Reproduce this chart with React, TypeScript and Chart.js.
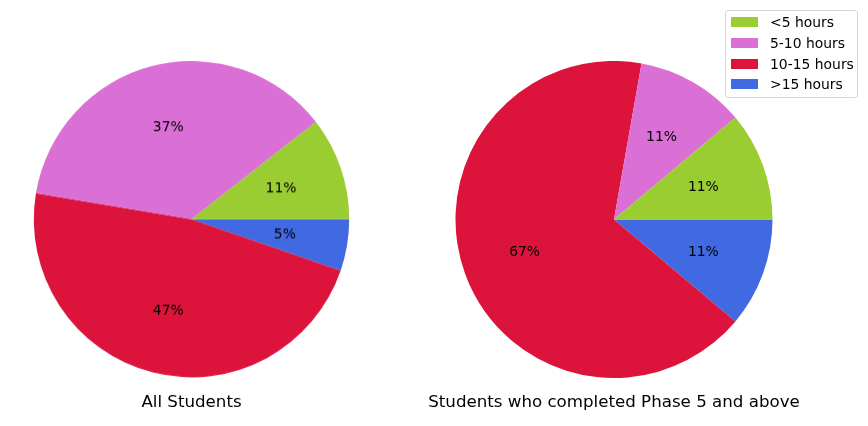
import React, { useEffect, useRef } from "react";
import { Chart, registerables } from "chart.js";

Chart.register(...registerables);

const categories = ["<5 hours", "5-10 hours", "10-15 hours", ">15 hours"];
const allStudents = [2, 7, 9, 1];
const phase5Students = [1, 1, 6, 1];
const titles = ["All Students", "Students who completed Phase 5 and above"];
const colors = ["#9ACD32", "#DA70D6", "#DC143C", "#4169E1"];

const FONT = "'DejaVu Sans', sans-serif";

const pctPlugin = {
  id: "pctLabels",
  afterDatasetsDraw(chart: any) {
    const ctx = chart.ctx;
    const meta = chart.getDatasetMeta(0);
    const data = chart.data.datasets[0].data as number[];
    const total = data.reduce((a, b) => a + b, 0);
    ctx.save();
    ctx.font = `13.9px ${FONT}`;
    ctx.fillStyle = "#000";
    ctx.textAlign = "center";
    ctx.textBaseline = "middle";
    meta.data.forEach((arc: any, i: number) => {
      const p = arc.getProps(["x", "y", "startAngle", "endAngle", "outerRadius"], true);
      const mid = (p.startAngle + p.endAngle) / 2;
      const r = 0.6 * p.outerRadius;
      const txt = Math.round((data[i] / total) * 100) + "%";
      ctx.fillText(txt, p.x + Math.cos(mid) * r, p.y + Math.sin(mid) * r);
    });
    ctx.restore();
  },
};

function PieCanvas(props: { values: number[]; title: string; left: number; top: number; width: number; size: number; padTop: number }) {
  const ref = useRef<HTMLCanvasElement>(null);
  const { values, title, left, top, width, size, padTop } = props;
  const height = size + padTop + 20 + 8;
  useEffect(() => {
    if (!ref.current) return;
    const rev = <T,>(a: T[]) => a.slice().reverse();
    const chart = new Chart(ref.current, {
      type: "pie",
      data: {
        labels: rev(categories),
        datasets: [
          {
            data: rev(values),
            backgroundColor: rev(colors),
            borderWidth: 0,
            hoverBorderWidth: 0,
            offset: 0,
            hoverOffset: 0,
          } as any,
        ],
      },
      options: {
        responsive: false,
        maintainAspectRatio: false,
        animation: false,
        rotation: 90,
        layout: { padding: 0 },
        events: [],
        plugins: {
          legend: { display: false },
          tooltip: { enabled: false },
          title: {
            display: true,
            position: "bottom",
            text: title,
            color: "#000",
            font: { family: FONT, size: 16.67, weight: "normal", lineHeight: 1.2 },
            padding: { top: padTop, bottom: 8 },
          },
        },
      } as any,
      plugins: [pctPlugin],
    });
    return () => chart.destroy();
  }, []);
  return (
    <canvas
      ref={ref}
      width={width}
      height={height}
      style={{ position: "absolute", left, top, width, height }}
    />
  );
}

function Legend() {
  return (
    <div
      style={{
        position: "absolute",
        left: 725,
        top: 10,
        width: 131,
        height: 86,
        border: "1px solid #d6d6d6",
        borderRadius: 3,
        background: "rgba(255,255,255,0.8)",
        fontFamily: FONT,
        fontSize: "13.9px",
        color: "#000",
      }}
    >
      {categories.map((c, i) => (
        <div key={c} style={{ position: "absolute", left: 0, top: 6 + i * 20.8, height: 10, width: "100%" }}>
          <div style={{ position: "absolute", left: 5, top: 0, width: 27, height: 10, background: colors[i] }} />
          <div style={{ position: "absolute", left: 44, top: -4, lineHeight: "18px", whiteSpace: "nowrap" }}>{c}</div>
        </div>
      ))}
    </div>
  );
}

export default function App() {
  return (
    <div style={{ position: "fixed", left: 0, top: 0, width: 868, height: 426, background: "#fff", overflow: "hidden" }}>
      <PieCanvas values={allStudents} title={titles[0]} left={0} top={61} width={383} size={316} padTop={15.6} />
      <PieCanvas values={phase5Students} title={titles[1]} left={404} top={61} width={420} size={317} padTop={15} />
      <Legend />
    </div>
  );
}
